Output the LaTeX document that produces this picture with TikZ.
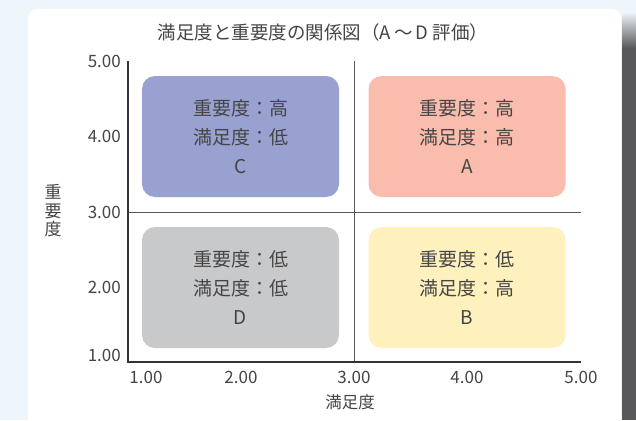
\documentclass[tikz,border=0pt]{standalone}
\usepackage{fontspec}
\setmainfont{Noto Sans CJK JP}
\usetikzlibrary{positioning,calc}
\definecolor{bgblue}{HTML}{EEF6FC}
\definecolor{txtgray}{HTML}{454545}
\definecolor{cellC}{HTML}{98A1CF}
\definecolor{cellA}{HTML}{F9BCAD}
\definecolor{cellD}{HTML}{C8C9CB}
\definecolor{cellB}{HTML}{FEF1BE}
\definecolor{shadowgray}{HTML}{58585A}

\begin{document}
\begin{tikzpicture}[x=1pt, y=-1pt, text=txtgray,
  cell/.style={rounded corners=13pt, minimum width=197pt, minimum height=121pt, align=center, inner sep=0pt, font=\fontsize{19}{29}\selectfont},
  tick/.style={inner sep=0pt, font=\fontsize{17}{17}\selectfont},
  axis/.style={draw=black!80, line width=1.5pt},
  midline/.style={draw=black!65, line width=0.9pt}]
  \useasboundingbox (0,0) rectangle (636,420);
  \clip (0,0) rectangle (636,420);
  \fill[bgblue] (0,0) rectangle (636,420);
  % panel and its shadow
  \shade[top color=bgblue, bottom color=shadowgray] (622,12) rectangle (636,48);
  \fill[shadowgray] (622,48) rectangle (636,420);
  \fill[white, rounded corners=9pt] (28,440) rectangle (621,9);
  \node[font=\fontsize{18.5}{18.5}\selectfont] (title) at (323,32) {満足度と重要度の関係図（A\,～\,D 評価）};

  \coordinate (orig) at (128,362);
  \coordinate (ytop) at (128,61);
  \coordinate (xend) at (581,362);
  \coordinate (hmidL) at (128,212);
  \coordinate (hmidR) at (581,212);
  \coordinate (vmidT) at (354,61);
  \coordinate (vmidB) at (354,362);
  \draw[midline] (hmidL) -- (hmidR);
  \draw[midline] (vmidT) -- (vmidB);
  \draw[axis] (ytop) -- (orig) -- (xend);

  % quadrants
  \node[cell, fill=cellC] (quadC) at (240.5,136.5) {重要度：高\\満足度：低\\C};
  \node[cell, fill=cellA] (quadA) at (467,136.5) {重要度：高\\満足度：高\\A};
  \node[cell, fill=cellD] (quadD) at (240.5,287.5) {重要度：低\\満足度：低\\D};
  \node[cell, fill=cellB] (quadB) at (467,287.5) {重要度：低\\満足度：高\\B};

  % ticks
  \node[tick, anchor=east] (y5) at (121,61) {5.00};
  \node[tick, anchor=east] (y4) at (121,136) {4.00};
  \node[tick, anchor=east] (y3) at (121,212) {3.00};
  \node[tick, anchor=east] (y2) at (121,287) {2.00};
  \node[tick, anchor=east] (y1) at (121,355) {1.00};
  \node[tick] (x1) at (146,377) {1.00};
  \node[tick] (x2) at (241,377) {2.00};
  \node[tick] (x3) at (354,377) {3.00};
  \node[tick] (x4) at (467,377) {4.00};
  \node[tick] (x5) at (581,377) {5.00};

  \node[align=center, font=\fontsize{17}{18.5}\selectfont] (ylab) at (53,211) {重\\要\\度};
  \node[font=\fontsize{16.5}{16.5}\selectfont] (xlab) at (350,402) {満足度};
\end{tikzpicture}
\end{document}
